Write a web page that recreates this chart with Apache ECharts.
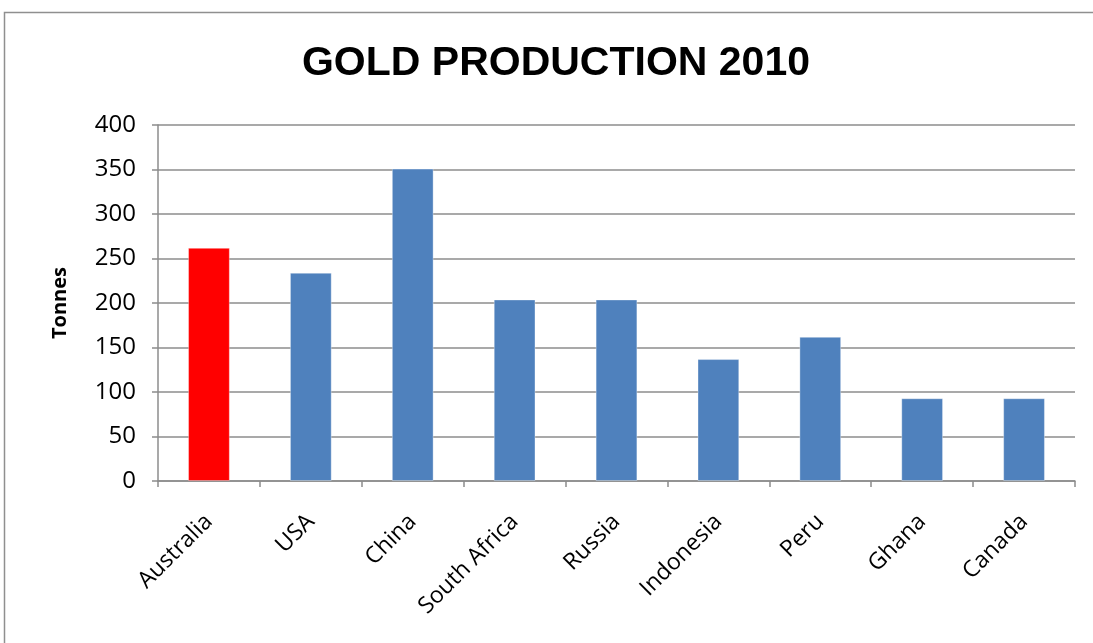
<!DOCTYPE html>
<html>
<head>
<meta charset="utf-8">
<script src="https://cdn.jsdelivr.net/npm/echarts@6/dist/echarts.min.js"></script>
<style>
  html, body { margin: 0; padding: 0; background: #fff; }
  #chart { width: 1093px; height: 643px; }
</style>
</head>
<body>
<div id="chart"></div>
<script>
// Gold production by country, 2010 (tonnes)
const countries = ['Australia', 'USA', 'China', 'South Africa', 'Russia', 'Indonesia', 'Peru', 'Ghana', 'Canada'];
const tonnes = [262, 234, 351, 204, 204, 137, 162, 93, 93];
const highlighted = 'Australia';
const titleText = 'GOLD PRODUCTION 2010';
const axisName = 'Tonnes';

const BLUE = '#4F81BD';
const RED = '#FF0000';
const GRID = '#8c8c8c';
const FONT = '"Open Sans", "Noto Sans", sans-serif';

const chart = echarts.init(document.getElementById('chart'), null, { renderer: 'canvas' });

chart.setOption({
  backgroundColor: '#ffffff',
  animation: false,
  graphic: [
    {
      type: 'rect',
      shape: { x: 4.5, y: 12.5, width: 1200, height: 800 },
      style: { fill: 'none', stroke: '#8f8f8f', lineWidth: 1.5 },
      silent: true
    },
    {
      type: 'text',
      x: 556,
      y: 64,
      style: {
        text: titleText,
        fill: '#000',
        font: 'bold 41px "Liberation Sans Narrow", "Liberation Sans", Arial, sans-serif',
        align: 'center',
        verticalAlign: 'middle'
      }
    }
  ],
  grid: { left: 158, right: 18, top: 125, bottom: 162, containLabel: false },
  xAxis: {
    type: 'category',
    data: countries,
    boundaryGap: true,
    axisLine: { lineStyle: { color: GRID, width: 1.5 } },
    axisTick: { show: true, length: 6, inside: false, alignWithLabel: false, lineStyle: { color: GRID, width: 1.5 } },
    axisLabel: {
      rotate: 45,
      interval: 0,
      margin: 37,
      color: '#000',
      fontFamily: FONT,
      fontSize: 23
    }
  },
  yAxis: {
    type: 'value',
    min: 0,
    max: 400,
    interval: 50,
    name: axisName,
    nameLocation: 'middle',
    nameGap: 88,
    nameTextStyle: { fontFamily: FONT, fontWeight: 'bold', fontSize: 20, color: '#000' },
    axisLine: { show: true, lineStyle: { color: GRID, width: 1.5 } },
    axisTick: { show: true, length: 6, lineStyle: { color: GRID, width: 1.5 } },
    axisLabel: { margin: 22, color: '#000', fontFamily: FONT, fontSize: 24 },
    splitLine: { show: true, lineStyle: { color: GRID, width: 1.5 } }
  },
  series: [
    {
      type: 'bar',
      data: tonnes.map((v, i) => ({
        value: v,
        itemStyle: { color: countries[i] === highlighted ? RED : BLUE }
      })),
      barWidth: '41%',
      itemStyle: { borderColor: 'rgba(255,255,255,0.35)', borderWidth: 1 }
    }
  ]
});
</script>
</body>
</html>
